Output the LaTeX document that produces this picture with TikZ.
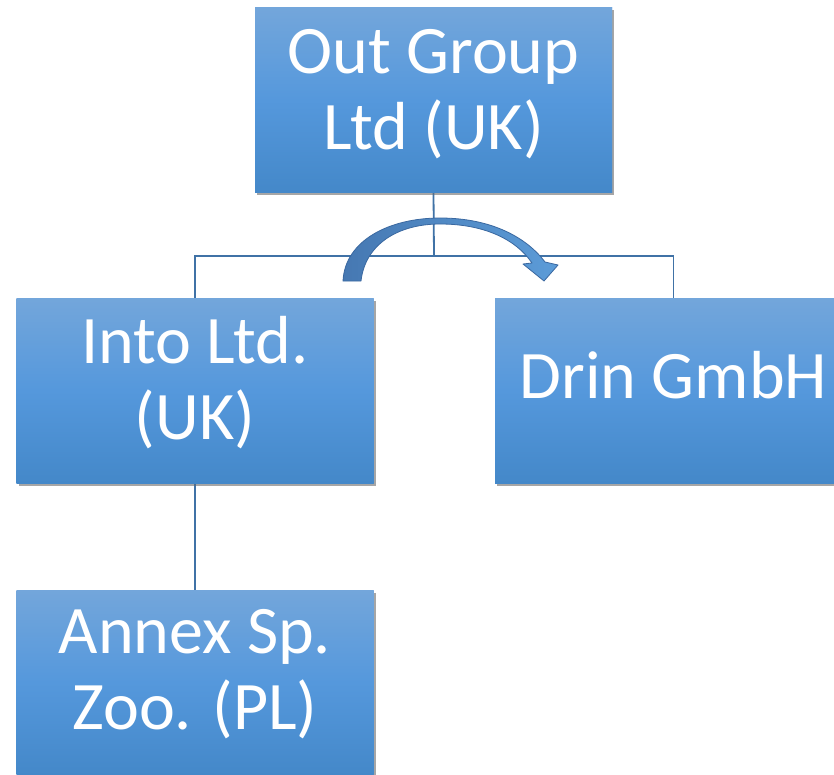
\documentclass[tikz,border=0pt]{standalone}
\usepackage{fontspec}
\setmainfont{Carlito}
\usetikzlibrary{shadows}
\definecolor{boxtop}{RGB}{115,166,219}
\definecolor{boxmid}{RGB}{85,152,220}
\definecolor{boxbot}{RGB}{68,136,201}
\definecolor{connc}{RGB}{64,114,166}
\definecolor{arrdark}{RGB}{70,120,178}
\definecolor{arrlight}{RGB}{92,156,216}
\definecolor{arrline}{RGB}{58,104,160}
\tikzset{
  orgbox/.style={rectangle, minimum width=357pt, minimum height=185pt, inner sep=0pt,
    top color=boxtop, bottom color=boxbot, middle color=boxmid,
    drop shadow={shadow xshift=2pt, shadow yshift=-3pt, opacity=0.35, fill=black!60}},
  boxtext/.style={text=white, align=center, inner sep=0pt,
    font=\fontsize{68}{76}\selectfont},
  conn/.style={draw=connc, line width=1.8pt},
}
\begin{document}
\begin{tikzpicture}[x=1pt,y=-1pt]
\useasboundingbox (0,0) rectangle (834,775);
\clip (0,0) rectangle (834,775);
\fill[white] (0,0) rectangle (834,775);
% connectors
\coordinate (mid) at (434,256);
\node[orgbox] (top) at (433.5,100) {};
\node[orgbox] (into) at (195,390.5) {};
\node[orgbox] (drin) at (673.5,390.5) {};
\node[orgbox] (annex) at (195,682.5) {};
\draw[conn] (top.south) -- (mid);
\draw[conn] (into.north) |- (mid) -| (drin.north);
\draw[conn] (into.south) -- (annex.north);
% redraw boxes above connectors
\node[orgbox] at (top) {};
\node[orgbox] at (into) {};
\node[orgbox] at (drin) {};
\node[orgbox] at (annex) {};
% texts
\node[boxtext] (toptext) at ([yshift=5.5pt]top.center) {Out Group\\Ltd (UK)};
\node[boxtext] (intotext) at ([yshift=8pt]into.center) {Into Ltd.\\(UK)};
\node[boxtext] (drintext) at ([yshift=15pt]drin.center) {Drin GmbH};
\node[boxtext] (annextext) at ([yshift=8pt]annex.center) {Annex Sp.\\Zoo. (PL)};
% curved arrow
\path[left color=arrdark, right color=arrlight, draw=arrline, line width=0.8pt, line join=round]
  (343,281) .. controls (345,240) and (390,218) .. (440,218)
  .. controls (492,218) and (527,238) .. (545,262)
  -- (558,265) -- (544,281) -- (523,264) -- (532,263)
  .. controls (515,238) and (482,224) .. (440,224)
  .. controls (397,224) and (365,245) .. (361,281) -- cycle;
\end{tikzpicture}
\end{document}
